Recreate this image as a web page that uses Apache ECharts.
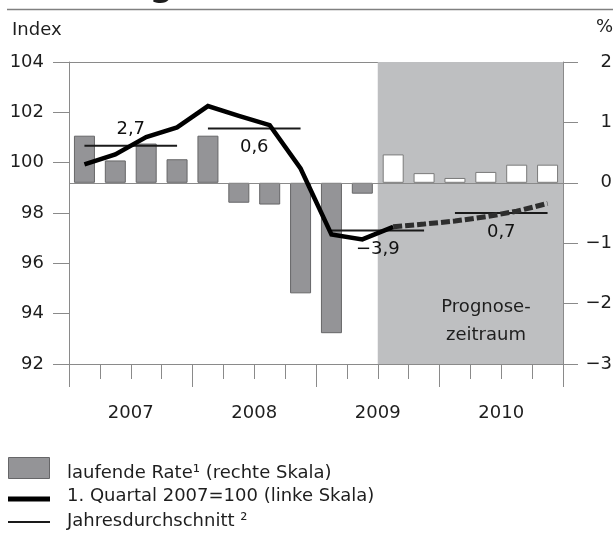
<!DOCTYPE html>
<html>
<head>
<meta charset="utf-8">
<script src="https://cdn.jsdelivr.net/npm/echarts@6/dist/echarts.min.js"></script>
<style>
  html, body { margin: 0; padding: 0; background: #ffffff; }
  #chart { width: 616px; height: 534px; }
</style>
</head>
<body>
<div id="chart"></div>
<script>
// ---- data ----
const quarters = ['2007 Q1','2007 Q2','2007 Q3','2007 Q4','2008 Q1','2008 Q2','2008 Q3','2008 Q4',
                  '2009 Q1','2009 Q2','2009 Q3','2009 Q4','2010 Q1','2010 Q2','2010 Q3','2010 Q4'];
const years = ['2007', '2008', '2009', '2010'];
// laufende Rate (%), right scale
const rateValues = [0.78, 0.37, 0.65, 0.39, 0.78, -0.33, -0.36, -1.83, -2.49, -0.18, 0.47, 0.16, 0.08, 0.18, 0.30, 0.30];
// 1. Quartal 2007 = 100, left scale
const indexValues = [99.93, 100.33, 101.02, 101.40, 102.25, 101.86, 101.49, 99.77, 97.15, 96.95, 97.45, 97.56, 97.68, 97.85, 98.07, 98.38];
// Jahresdurchschnitt (index level) and its labelled rate
const yearAverages = [100.67, 101.36, 97.30, 98.00];
const yearRateLabels = ['2,7', '0,6', '−3,9', '0,7'];
// first quarter of the forecast period (Prognosezeitraum)
const forecastStartQuarter = '2009 Q3';
// axis scales
const leftScale = { min: 92, max: 104, interval: 2 };
const rightScale = { min: -3, max: 2, interval: 1 };

// ---- styles ----
const FONT = 'DejaVu Sans';
const axisColor = '#8a8a8a';
const textColor = '#1e1e1e';
const barGray = '#949497';
const barBorder = '#666668';
const shadeColor = '#bebfc1';

const forecastIdx = quarters.indexOf(forecastStartQuarter);

const barData = rateValues.map((v, i) => i >= forecastIdx
  ? { value: v, itemStyle: { color: '#ffffff', borderColor: '#7a7a7a', borderWidth: 1 } }
  : { value: v, itemStyle: { color: barGray, borderColor: barBorder, borderWidth: 1 } });

const solidLine = indexValues.map((v, i) => i <= forecastIdx ? v : null);
const dashedLine = indexValues.map((v, i) => i >= forecastIdx ? v : null);

const avgSeries = years.map((y, k) => ({
  type: 'line', name: 'Jahresdurchschnitt²', xAxisIndex: 0, yAxisIndex: 0,
  data: [[k * 4, yearAverages[k]], [k * 4 + 3, yearAverages[k]]],
  symbol: 'none', lineStyle: { color: '#1a1a1a', width: 2 }, z: 4, silent: true
}));

const option = {
  animation: false,
  backgroundColor: '#ffffff',
  textStyle: { fontFamily: FONT },
  grid: { left: 69, right: 53, top: 62, bottom: 170, containLabel: false },
  xAxis: [
    { type: 'category', data: quarters, position: 'bottom', boundaryGap: true,
      axisLine: { show: true, onZero: false, lineStyle: { color: axisColor, width: 1 } },
      axisTick: { show: true, length: 15, interval: 0, lineStyle: { color: axisColor, width: 1 } },
      axisLabel: { show: false, interval: 0 }, splitLine: { show: false } },
    { type: 'category', data: years, position: 'bottom', boundaryGap: true,
      axisLine: { show: false, onZero: false },
      axisTick: { show: true, length: 23, interval: 0, lineStyle: { color: axisColor, width: 1 } },
      axisLabel: { show: true, interval: 0, fontSize: 18, margin: 40, color: textColor, fontFamily: FONT },
      splitLine: { show: false } },
    { type: 'value', min: 0, max: quarters.length, position: 'top',
      axisLine: { show: true, onZero: false, lineStyle: { color: axisColor, width: 1 } },
      axisTick: { show: false }, axisLabel: { show: false }, splitLine: { show: false } }
  ],
  yAxis: [
    { type: 'value', min: leftScale.min, max: leftScale.max, interval: leftScale.interval, position: 'left',
      axisLine: { show: true, onZero: false, lineStyle: { color: axisColor, width: 1 } },
      axisTick: { show: true, length: 16, lineStyle: { color: axisColor, width: 1 } },
      axisLabel: { fontSize: 18, margin: 25, color: textColor, fontFamily: FONT },
      splitLine: { show: false } },
    { type: 'value', min: rightScale.min, max: rightScale.max, interval: rightScale.interval, position: 'right',
      axisLine: { show: true, onZero: false, lineStyle: { color: axisColor, width: 1 } },
      axisTick: { show: true, length: 15, lineStyle: { color: axisColor, width: 1 } },
      axisLabel: { fontSize: 18, margin: 49, align: 'right', color: textColor, fontFamily: FONT,
        formatter: v => v < 0 ? '−' + Math.abs(v) : String(v) },
      splitLine: { show: false } }
  ],
  series: [
    { type: 'line', name: 'Prognosezeitraum', xAxisIndex: 2, yAxisIndex: 1,
      data: [[forecastIdx, rightScale.max], [quarters.length, rightScale.max]],
      symbol: 'none', lineStyle: { width: 0, opacity: 0 },
      areaStyle: { color: shadeColor, opacity: 1, origin: 'start' }, z: 1, silent: true },
    { type: 'bar', name: 'laufende Rate¹ (rechte Skala)', xAxisIndex: 0, yAxisIndex: 1,
      data: barData, barWidth: 21, z: 2, silent: true,
      markLine: { silent: true, symbol: 'none', label: { show: false },
        lineStyle: { color: axisColor, width: 1, type: 'solid' },
        data: [{ yAxis: 0 }] } },
    ...avgSeries,
    { type: 'line', name: '1. Quartal 2007=100 (linke Skala)', xAxisIndex: 0, yAxisIndex: 0,
      data: solidLine, symbol: 'none', connectNulls: false,
      lineStyle: { color: '#000000', width: 4.5, cap: 'butt', join: 'miter' }, z: 5, silent: true },
    { type: 'line', name: '1. Quartal 2007=100 (linke Skala)', xAxisIndex: 0, yAxisIndex: 0,
      data: dashedLine, symbol: 'none', connectNulls: false,
      lineStyle: { color: '#2e2e2e', width: 5, type: [9, 3], cap: 'butt' }, z: 5, silent: true },
    { type: 'scatter', name: 'labels', xAxisIndex: 1, yAxisIndex: 0,
      data: yearAverages.map((v, k) => ({
        value: v,
        label: { position: k === 0 ? 'top' : 'bottom', distance: k === 0 ? 6 : 9 }
      })),
      symbolSize: 2, itemStyle: { color: 'rgba(0,0,0,0)' }, z: 6, silent: true,
      label: { show: true, fontSize: 18, color: '#111111', opacity: 1, textBorderWidth: 0, fontFamily: FONT,
        formatter: p => yearRateLabels[p.dataIndex] } }
  ],
  graphic: [
    { type: 'text', x: 175, y: 4, style: { text: 'Entwicklung', fontSize: 42, fontFamily: FONT, fill: textColor, textAlign: 'right', textVerticalAlign: 'bottom' }, silent: true },
    { type: 'line', shape: { x1: 7, y1: 9.5, x2: 613, y2: 9.5 }, style: { stroke: '#808080', lineWidth: 1.5 }, silent: true },
    { type: 'text', x: 12, y: 30, style: { text: 'Index', fontSize: 18, fontFamily: FONT, fill: textColor, textVerticalAlign: 'middle' } },
    { type: 'text', x: 613, y: 27, style: { text: '%', fontSize: 18, fontFamily: FONT, fill: textColor, textAlign: 'right', textVerticalAlign: 'middle' } },
    { type: 'text', x: 486, y: 307, z: 10, style: { text: 'Prognose-', fontSize: 18, fontFamily: FONT, fill: textColor, textAlign: 'center', textVerticalAlign: 'middle' } },
    { type: 'text', x: 486, y: 335, z: 10, style: { text: 'zeitraum', fontSize: 18, fontFamily: FONT, fill: textColor, textAlign: 'center', textVerticalAlign: 'middle' } },
    // legend
    { type: 'rect', shape: { x: 8.5, y: 457.5, width: 41, height: 21 }, style: { fill: barGray, stroke: barBorder, lineWidth: 1 } },
    { type: 'text', x: 67, y: 473, style: { text: 'laufende Rate¹ (rechte Skala)', fontSize: 18, fontFamily: FONT, fill: textColor, textVerticalAlign: 'middle' } },
    { type: 'rect', shape: { x: 8, y: 496.5, width: 42, height: 5 }, style: { fill: '#000000' } },
    { type: 'text', x: 67, y: 496, style: { text: '1. Quartal 2007=100 (linke Skala)', fontSize: 18, fontFamily: FONT, fill: textColor, textVerticalAlign: 'middle' } },
    { type: 'line', shape: { x1: 8, y1: 522, x2: 50, y2: 522 }, style: { stroke: '#1a1a1a', lineWidth: 2 } },
    { type: 'text', x: 67, y: 521, style: { text: 'Jahresdurchschnitt ²', fontSize: 18, fontFamily: FONT, fill: textColor, textVerticalAlign: 'middle' } }
  ]
};

const chart = echarts.init(document.getElementById('chart'), null, { renderer: 'canvas', width: 616, height: 534 });
chart.setOption(option);
</script>
</body>
</html>
